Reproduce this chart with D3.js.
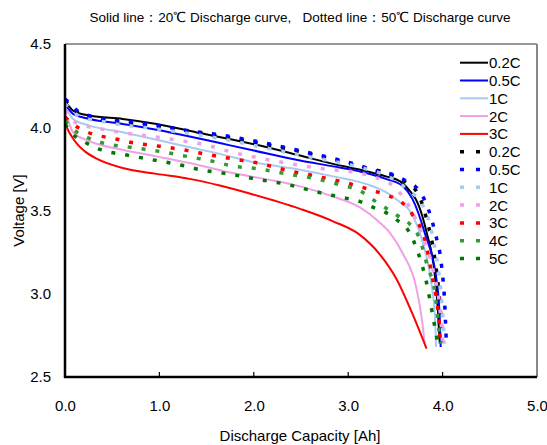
<!DOCTYPE html>
<html>
<head>
<meta charset="utf-8">
<script src="https://cdn.jsdelivr.net/npm/d3@7"></script>
<style>
  body { margin: 0; background: #fff; }
  text { font-family: "Liberation Sans", Arial, sans-serif; }
</style>
</head>
<body>
<div id="chart"></div>
<script>
// values: [capacity Ah, voltage V]
var solid02 = [[0,4.15],[0.02,4.14],[0.085,4.10],[0.26,4.07],[0.61,4.05],[0.97,4.02],[1.43,3.965],[1.78,3.925],[2.14,3.88],[2.49,3.83],[2.84,3.78],[3.2,3.735],[3.4,3.705],[3.55,3.675],[3.65,3.62],[3.74,3.54],[3.83,3.37],[3.92,3.10],[3.95,2.90],[3.97,2.70]];
var solid05 = [[0,4.13],[0.02,4.12],[0.085,4.08],[0.26,4.05],[0.61,4.02],[0.97,3.985],[1.32,3.945],[1.64,3.905],[2.0,3.86],[2.49,3.80],[2.84,3.765],[3.12,3.735],[3.4,3.69],[3.58,3.645],[3.68,3.57],[3.81,3.367],[3.94,3.066],[3.97,2.85],[3.98,2.68]];
var solid1 = [[0,4.11],[0.02,4.10],[0.085,4.05],[0.26,4.01],[0.61,3.97],[0.97,3.925],[1.32,3.88],[1.64,3.84],[2.0,3.79],[2.49,3.745],[2.84,3.705],[3.2,3.657],[3.4,3.61],[3.54,3.554],[3.65,3.50],[3.79,3.307],[3.88,3.066],[3.92,2.85],[3.93,2.68]];
var solid2 = [[0,4.08],[0.02,4.06],[0.085,3.97],[0.26,3.916],[0.61,3.865],[0.97,3.825],[1.32,3.785],[1.78,3.725],[2.14,3.687],[2.49,3.645],[2.84,3.584],[3.12,3.52],[3.33,3.43],[3.45,3.36],[3.58,3.24],[3.72,3.04],[3.78,2.85],[3.81,2.70]];
var solid3 = [[0,4.04],[0.02,4.00],[0.07,3.946],[0.13,3.898],[0.21,3.855],[0.34,3.81],[0.61,3.755],[0.97,3.72],[1.32,3.69],[1.64,3.65],[2.0,3.595],[2.49,3.51],[2.84,3.435],[3.12,3.355],[3.33,3.24],[3.51,3.09],[3.68,2.88],[3.83,2.67]];

var dot02 = [[0,4.16],[0.02,4.15],[0.14,4.09],[0.44,4.045],[1.04,4.0],[1.5,3.96],[2.56,3.845],[3.12,3.765],[3.47,3.71],[3.62,3.665],[3.74,3.60],[3.83,3.45],[3.92,3.20],[3.97,2.95],[4.0,2.70]];
var dot05 = [[0,4.17],[0.02,4.16],[0.14,4.096],[0.44,4.048],[0.74,4.03],[1.04,4.006],[1.34,3.976],[1.5,3.965],[2.56,3.85],[3.12,3.77],[3.28,3.74],[3.47,3.717],[3.62,3.675],[3.74,3.627],[3.83,3.536],[3.92,3.367],[3.99,3.163],[4.02,2.964],[4.04,2.70]];
var dot1 = [[0,4.14],[0.02,4.13],[0.14,4.07],[0.44,4.03],[1.04,3.985],[1.5,3.946],[2.56,3.825],[2.84,3.795],[3.12,3.76],[3.47,3.69],[3.62,3.63],[3.81,3.506],[3.92,3.265],[3.99,2.964],[4.02,2.70]];
var dot2 = [[0,4.10],[0.02,4.09],[0.085,4.036],[0.4,3.988],[0.58,3.97],[0.9,3.946],[1.22,3.92],[1.48,3.895],[1.78,3.849],[2.25,3.795],[2.7,3.753],[3.12,3.725],[3.28,3.70],[3.51,3.63],[3.65,3.52],[3.80,3.33],[3.90,3.14],[3.98,2.86],[4.0,2.70]];
var dot3 = [[0,4.06],[0.085,4.018],[0.24,3.97],[0.55,3.928],[0.69,3.91],[1.0,3.886],[1.29,3.861],[1.43,3.845],[1.78,3.81],[2.06,3.783],[2.36,3.74],[2.67,3.705],[2.96,3.669],[3.26,3.62],[3.42,3.59],[3.57,3.548],[3.68,3.476],[3.83,3.283],[3.89,3.10],[3.94,2.946],[3.97,2.765],[3.975,2.70]];
var dot4 = [[0,4.04],[0.085,3.988],[0.23,3.94],[0.37,3.91],[0.69,3.88],[1.0,3.855],[1.29,3.825],[1.57,3.795],[1.75,3.77],[2.05,3.75],[2.35,3.72],[2.66,3.69],[2.94,3.65],[3.12,3.62],[3.25,3.57],[3.52,3.47],[3.65,3.42],[3.76,3.325],[3.84,3.163],[3.92,3.006],[3.97,2.74],[3.98,2.70]];
var dot5 = [[0,4.02],[0.085,3.958],[0.23,3.904],[0.37,3.867],[0.67,3.831],[0.97,3.80],[1.25,3.77],[1.43,3.745],[1.73,3.72],[2.04,3.687],[2.35,3.657],[2.65,3.614],[2.94,3.578],[3.12,3.555],[3.26,3.52],[3.39,3.49],[3.51,3.446],[3.65,3.367],[3.74,3.247],[3.83,3.066],[3.89,2.886],[3.95,2.70]];

var rates = ["0.2C", "0.5C", "1C", "2C", "3C", "0.2C", "0.5C", "1C", "2C", "3C", "4C", "5C"];
var xTicks = [0, 1, 2, 3, 4, 5];
var yTicks = [2.5, 3.0, 3.5, 4.0, 4.5];

function drawChart() {
  var series = [
    {data: solid02, color: "#000000", dotted: false},
    {data: solid05, color: "#0000ff", dotted: false},
    {data: solid1,  color: "#a6caf0", dotted: false},
    {data: solid2,  color: "#f0a0e6", dotted: false},
    {data: solid3,  color: "#ff0000", dotted: false},
    {data: dot02, color: "#000000", dotted: true},
    {data: dot05, color: "#0000ff", dotted: true},
    {data: dot1,  color: "#a6caf0", dotted: true},
    {data: dot2,  color: "#f0a0e6", dotted: true},
    {data: dot3,  color: "#ff0000", dotted: true},
    {data: dot4,  color: "#339933", dotted: true},
    {data: dot5,  color: "#007700", dotted: true}
  ];
  series.forEach(function(s, i) { s.label = rates[i]; });

  var width = 547, height = 445;
  var plotLeft = 65, plotRight = 537, plotTop = 44, plotBottom = 377;

  var svg = d3.select("#chart").append("svg")
    .attr("width", width)
    .attr("height", height);

  var x = d3.scaleLinear().domain([0, 5]).range([plotLeft, plotRight]);
  var y = d3.scaleLinear().domain([2.5, 4.5]).range([plotBottom, plotTop]);

  svg.append("defs").append("clipPath").attr("id", "plot")
    .append("rect")
    .attr("x", plotLeft).attr("y", plotTop)
    .attr("width", plotRight - plotLeft).attr("height", plotBottom - plotTop);

  // frame: top and right are lighter
  svg.append("line").attr("x1", plotLeft).attr("x2", plotRight).attr("y1", plotTop).attr("y2", plotTop)
    .attr("stroke", "#333").attr("stroke-width", 1.2);
  svg.append("line").attr("x1", plotRight).attr("x2", plotRight).attr("y1", plotTop).attr("y2", plotBottom)
    .attr("stroke", "#888").attr("stroke-width", 2);

  var line = d3.line()
    .x(d => x(d[0]))
    .y(d => y(d[1]))
    .curve(d3.curveMonotoneX);

  var lines = svg.append("g").attr("clip-path", "url(#plot)");

  series.filter(s => !s.dotted).forEach(function(s) {
    lines.append("path")
      .attr("d", line(s.data))
      .attr("fill", "none")
      .attr("stroke", s.color)
      .attr("stroke-width", 2);
  });
  series.filter(s => s.dotted).forEach(function(s) {
    lines.append("path")
      .attr("d", line(s.data))
      .attr("fill", "none")
      .attr("stroke", s.color)
      .attr("stroke-width", 3.5)
      .attr("stroke-dasharray", "4,10");
  });

  // axes
  var xAxis = d3.axisBottom(x).tickValues(xTicks).tickFormat(d3.format(".1f")).tickSize(0).tickPadding(23);
  var gx = svg.append("g")
    .attr("transform", "translate(0," + plotBottom + ")")
    .call(xAxis);
  gx.select(".domain").remove();
  gx.selectAll("text").attr("font-size", "15px").attr("fill", "#000")
    .style("font-family", "'Liberation Sans', Arial, sans-serif");

  // inward ticks on the x axis
  svg.append("g").selectAll("line")
    .data(xTicks.slice(1, -1))
    .enter().append("line")
    .attr("x1", d => x(d)).attr("x2", d => x(d))
    .attr("y1", plotBottom).attr("y2", plotBottom - 5)
    .attr("stroke", "#000").attr("stroke-width", 1.2);

  var yAxis = d3.axisLeft(y).tickValues(yTicks).tickFormat(d3.format(".1f")).tickSize(0).tickPadding(14);
  var gy = svg.append("g")
    .attr("transform", "translate(" + plotLeft + ",0)")
    .call(yAxis);
  gy.select(".domain").remove();
  gy.selectAll("text").attr("font-size", "15px").attr("fill", "#000")
    .style("font-family", "'Liberation Sans', Arial, sans-serif");

  svg.append("line").attr("x1", plotLeft).attr("x2", plotLeft).attr("y1", plotTop).attr("y2", plotBottom + 1)
    .attr("stroke", "#000").attr("stroke-width", 2.5);
  svg.append("line").attr("x1", plotLeft - 1).attr("x2", plotRight).attr("y1", plotBottom).attr("y2", plotBottom)
    .attr("stroke", "#000").attr("stroke-width", 2.5);

  // legend
  var legend = svg.append("g");
  series.forEach(function(s, i) {
    var ly = 62.7 + i * 17.8;
    legend.append("line")
      .attr("x1", 460).attr("x2", s.dotted ? 484 : 488)
      .attr("y1", ly).attr("y2", ly)
      .attr("stroke", s.color)
      .attr("stroke-width", s.dotted ? 3.5 : 2)
      .attr("stroke-dasharray", s.dotted ? "4,12" : null);
    legend.append("text")
      .attr("x", 489).attr("y", ly + 5.5)
      .attr("font-size", "15px")
      .text(s.label);
  });

  // titles
  svg.append("text")
    .attr("x", 300).attr("y", 22)
    .attr("text-anchor", "middle")
    .attr("font-size", "13.5px")
    .style("white-space", "pre")
    .text("Solid line：20℃ Discharge curve,   Dotted line：50℃ Discharge curve");

  svg.append("text")
    .attr("x", 300).attr("y", 441)
    .attr("text-anchor", "middle")
    .attr("font-size", "15px")
    .text("Discharge Capacity [Ah]");

  svg.append("text")
    .attr("transform", "translate(24," + ((plotTop + plotBottom) / 2) + ") rotate(-90)")
    .attr("text-anchor", "middle")
    .attr("font-size", "15px")
    .text("Voltage [V]");
}
drawChart();
</script>
</body>
</html>
